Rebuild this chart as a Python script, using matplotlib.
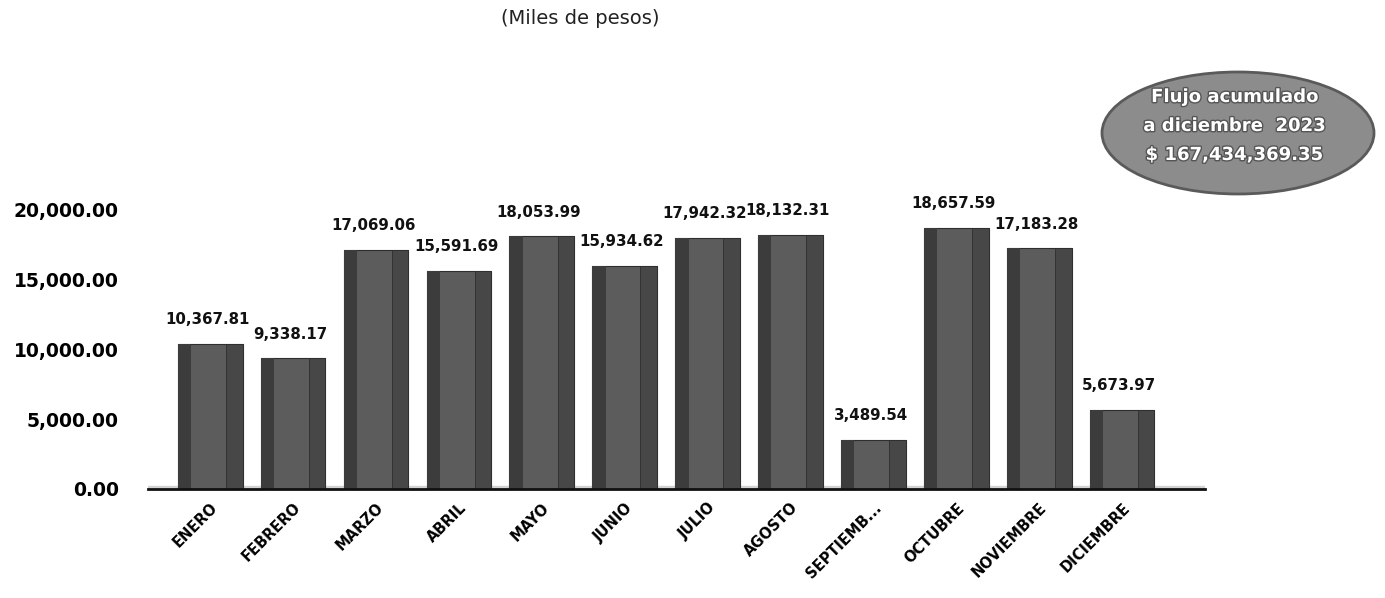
import matplotlib.pyplot as plt
from matplotlib.patches import Ellipse
import matplotlib.patheffects as pe

# datos (miles de pesos)
meses = ['ENERO', 'FEBRERO', 'MARZO', 'ABRIL', 'MAYO', 'JUNIO', 'JULIO',
         'AGOSTO', 'SEPTIEMB...', 'OCTUBRE', 'NOVIEMBRE', 'DICIEMBRE']
valores = [10367.81, 9338.17, 17069.06, 15591.69, 18053.99, 15934.62,
           17942.32, 18132.31, 3489.54, 18657.59, 17183.28, 5673.97]
yticks = [0, 5000, 10000, 15000, 20000]
recuadro = ['Flujo acumulado', 'a diciembre  2023', '$ 167,434,369.35']

plt.rcParams['font.family'] = ['DejaVu Sans']

fig = plt.figure(figsize=(13.85, 5.98), dpi=100)
ax = fig.add_axes([148/1385, 109/598, 1057/1385, 280/598])

x = list(range(len(meses)))
w = 0.78

# piso gris
ax.axhspan(0, 250, color='#d4d4d4', zorder=0)

# cara frontal y lateral de cada barra
ax.bar(x, valores, width=w, color='#5c5c5c', edgecolor='#2e2e2e', linewidth=0.8, zorder=2)
ax.bar([i + w/2 - 0.1 for i in x], valores, width=0.2, color='#474747',
       edgecolor='#2e2e2e', linewidth=0.6, zorder=3)
ax.bar([i - w/2 + 0.08 for i in x], valores, width=0.16, color='#3c3c3c',
       linewidth=0, zorder=3)

for i, v in zip(x, valores):
    ax.annotate(f'{v:,.2f}', (i, v), xytext=(-2, 12), textcoords='offset points',
                ha='center', va='bottom', fontsize=10.8, fontweight='bold',
                color='#111111', clip_on=False)

ax.set_xlim(-0.75, 12.0)
ax.set_ylim(0, 20000)
ax.set_yticks(yticks)
ax.set_yticklabels([f'{t:,.2f}' for t in yticks], fontsize=13.5, fontweight='bold')
ax.set_xticks(x)
ax.set_xticklabels(meses, rotation=45, ha='right', rotation_mode='anchor',
                   fontsize=10.5, fontweight='bold')
ax.tick_params(axis='y', length=0, pad=21)
ax.tick_params(axis='x', length=0, pad=8)
for s in ['top', 'right', 'left']:
    ax.spines[s].set_visible(False)
ax.spines['bottom'].set_linewidth(2)
ax.spines['bottom'].set_color('#111111')
ax.spines['bottom'].set_zorder(5)

fig.text(580/1385, 1 - 18/598, '(Miles de pesos)', ha='center', va='center',
         fontsize=14, color='#222222')

# ovalo con el total
ov = Ellipse((1238/1385, 1 - 133/598), 272/1385, 122/598, transform=fig.transFigure,
             facecolor='#8c8c8c', edgecolor='#5a5a5a', linewidth=2)
fig.patches.append(ov)
for k, t in enumerate(recuadro):
    fig.text(1234/1385, 1 - (97 + 29*k)/598, t, ha='center', va='center',
             fontsize=13, fontweight='bold', color='white',
             path_effects=[pe.withStroke(linewidth=2, foreground='#555555')])

fig.savefig('out.png', dpi=100)
